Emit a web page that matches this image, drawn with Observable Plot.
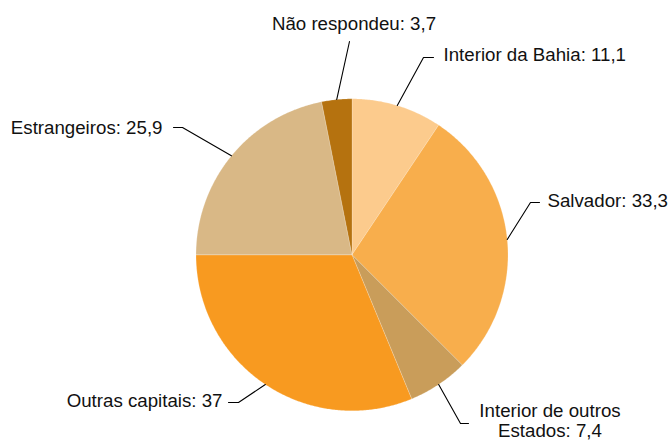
<!DOCTYPE html>
<html><head><meta charset="utf-8">
<script src="https://cdn.jsdelivr.net/npm/d3@7"></script>
<script src="https://cdn.jsdelivr.net/npm/@observablehq/plot@0.6"></script>
<style>html,body{margin:0;padding:0;background:#fff}</style>
</head><body><div id="chart"></div>
<script>
// ---- data ----
const categories = ["Interior da Bahia", "Salvador", "Interior de outros Estados", "Outras capitais", "Estrangeiros", "Não respondeu"];
const values = [11.1, 33.3, 7.4, 37, 25.9, 3.7];
const valueLabels = ["11,1", "33,3", "7,4", "37", "25,9", "3,7"];
const displayNames = ["Interior da Bahia", "Salvador", "Interior de outros\nEstados", "Outras capitais", "Estrangeiros", "Não respondeu"];
const colors = ["#FCCB8D", "#F8AE4C", "#C99D5A", "#F89A20", "#D9B886", "#B5720F"];

// ---- layout ----
const W = 669, H = 441, R = 156, CX = 351.5, CY = 254.3;
// label placement: elbow offset from pie centre (px, y down), horizontal tail (px), text offset from tail end (px)
const labelLayout = [
  {elbow: [71.5, -197.3], tail: 10, text: [10, -3], anchor: "start"},
  {elbow: [178.5, -52.3], tail: 9, text: [8, -1.5], anchor: "start"},
  {elbow: [108.5, 168.7], tail: 8, text: [81.5, -3], anchor: "middle"},
  {elbow: [-113.5, 147.7], tail: -10, text: [-6, -2], anchor: "end"},
  {elbow: [-169.5, -127.3], tail: -9, text: [-11, 0], anchor: "end"},
  {elbow: [-2.5, -213.3], tail: 0, text: [4.5, -17.7], anchor: "middle"}
];

const rows = categories.map((c, i) => ({category: c, value: values[i], text: `${displayNames[i]}: ${valueLabels[i]}`}));
const arcs = d3.pie().sort(null).value(d => d.value)(rows);

// slice outlines (geometry of each arc)
const polys = arcs.flatMap(a => {
  const n = Math.max(2, Math.ceil((a.endAngle - a.startAngle) / (Math.PI / 360)));
  const pts = [{category: a.data.category, x: 0, y: 0}];
  for (let k = 0; k <= n; k++) {
    const t = a.startAngle + (a.endAngle - a.startAngle) * k / n;
    pts.push({category: a.data.category, x: Math.sin(t), y: Math.cos(t)});
  }
  pts.push({category: a.data.category, x: 0, y: 0});
  return pts;
});

const leaders = [];
const labels = [];
arcs.forEach((a, i) => {
  const L = labelLayout[i];
  const mid = (a.startAngle + a.endAngle) / 2;
  const c = a.data.category;
  const ex = L.elbow[0] / R, ey = -L.elbow[1] / R;
  const tx = ex + L.tail / R;
  leaders.push({category: c, x: Math.sin(mid), y: Math.cos(mid)});
  leaders.push({category: c, x: ex, y: ey});
  leaders.push({category: c, x: tx, y: ey});
  labels.push({text: a.data.text, anchor: L.anchor, x: tx + L.text[0] / R, y: ey - L.text[1] / R});
});

const chart = Plot.plot({
  width: W, height: H, margin: 0,
  x: {domain: [-CX / R, (W - CX) / R], axis: null},
  y: {domain: [(CY - H) / R, CY / R], axis: null},
  color: {domain: categories, range: colors},
  style: {fontFamily: "'Liberation Sans', Arial, sans-serif", background: "#fff"},
  marks: [
    Plot.line(polys, {x: "x", y: "y", z: "category", fill: "category", stroke: "#fff", strokeWidth: 0.5, strokeOpacity: 0.4}),
    Plot.line(leaders, {x: "x", y: "y", z: "category", stroke: "#000", strokeWidth: 1.1}),
    ...["start", "middle", "end"].map(anchor =>
      Plot.text(labels.filter(d => d.anchor === anchor), {
        x: "x", y: "y", text: "text", textAnchor: anchor, lineAnchor: "middle",
        fontSize: 18.7, lineHeight: 1.07, fill: "#111"
      }))
  ]
});
document.getElementById("chart").appendChild(chart);
</script>
</body></html>
